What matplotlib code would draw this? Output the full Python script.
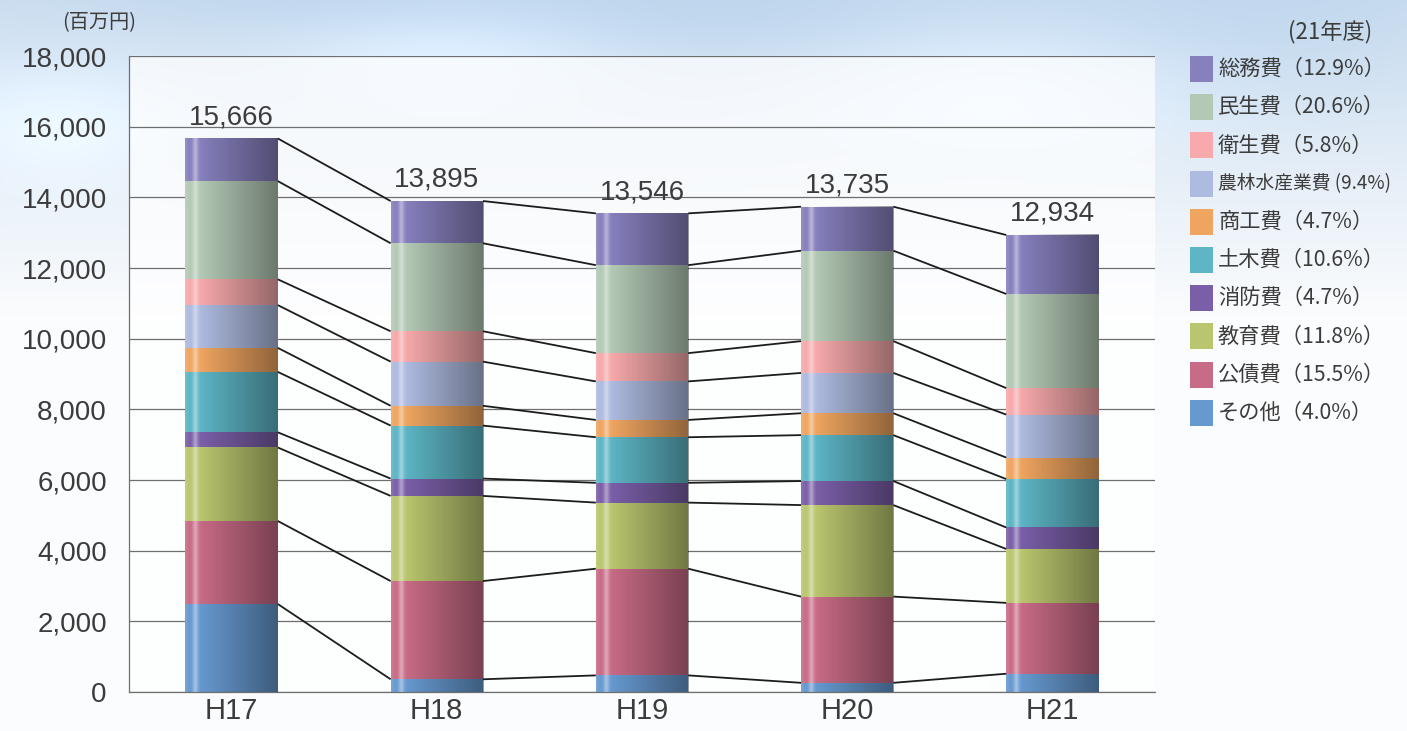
import numpy as np
import matplotlib.pyplot as plt
from matplotlib.patches import Rectangle

# データ（百万円）
years = ['H17', 'H18', 'H19', 'H20', 'H21']
totals = [15666, 13895, 13546, 13735, 12934]

# 下から積み上げる順
cat_names = ['その他', '公債費', '教育費', '消防費', '土木費',
             '商工費', '農林水産業費', '衛生費', '民生費', '総務費']
sonota = [2490, 360, 470, 260, 517]
kousai = [2350, 2780, 3020, 2440, 2005]
kyouiku = [2080, 2410, 1870, 2590, 1526]
shoubou = [430, 490, 560, 680, 608]
doboku = [1710, 1500, 1290, 1300, 1371]
shoukou = [680, 560, 490, 620, 608]
nourin = [1210, 1250, 1090, 1140, 1216]
eisei = [730, 860, 800, 900, 750]
minsei = [2780, 2490, 2490, 2560, 2664]
soumu = [1206, 1195, 1466, 1245, 1669]
series = [sonota, kousai, kyouiku, shoubou, doboku,
          shoukou, nourin, eisei, minsei, soumu]
shares_21 = ['4.0%', '15.5%', '11.8%', '4.7%', '10.6%',
             '4.7%', '9.4%', '5.8%', '20.6%', '12.9%']

colors = ['#6699d0', '#c86b86', '#bac66f', '#7a5fa8', '#5db5c5',
          '#efa560', '#aebbe0', '#f7a9ab', '#b3c9b5', '#8680bd']

plt.rcParams['font.family'] = ['Noto Sans CJK JP', 'DejaVu Sans']
num_font = ['Liberation Sans', 'DejaVu Sans']
txt_col = '#3c3c3c'

W, H = 1407, 731
fig = plt.figure(figsize=(W / 100, H / 100), dpi=100)

# 空っぽい背景
bg = fig.add_axes([0, 0, 1, 1], zorder=0)
bg.axis('off')
yy, xx = np.mgrid[0:H, 0:W]
t = np.clip(yy / 320.0, 0, 1)
top = np.array([0.80, 0.87, 0.94])
bot = np.array([0.985, 0.99, 0.995])
img = top[None, None, :] * (1 - t[..., None]) + bot[None, None, :] * t[..., None]
for cx, cy, rx, ry, k in [(700, 10, 260, 60, 0.9), (1250, 30, 200, 90, 0.7),
                          (300, 0, 200, 40, 0.6)]:
    g = np.exp(-(((xx - cx) / rx) ** 2 + ((yy - cy) / ry) ** 2))
    img = img - k * 0.06 * g[..., None] * np.array([1.0, 0.6, 0.2])
for cx, cy, rx, ry in [(450, 60, 160, 50), (1000, 90, 180, 60), (60, 120, 120, 60)]:
    g = np.exp(-(((xx - cx) / rx) ** 2 + ((yy - cy) / ry) ** 2))
    img = img + 0.06 * g[..., None]
bg.imshow(np.clip(img, 0, 1), aspect='auto', extent=[0, 1, 0, 1])
bg.set_xlim(0, 1)
bg.set_ylim(0, 1)

ax = fig.add_axes([129 / W, 1 - 692 / H, (1155 - 129) / W, (692 - 56) / H], zorder=1)
ax.patch.set_facecolor('white')
ax.patch.set_alpha(0.7)

x = np.arange(len(years))
bw = 0.45
bottom = np.zeros(len(years))
cums = []
for vals, c in zip(series, colors):
    ax.bar(x, vals, bw, bottom=bottom, color=c, linewidth=0, zorder=2)
    bottom = bottom + np.array(vals)
    cums.append(bottom.copy())

# 棒の陰影（左明るく右暗く）
n = 200
u = np.linspace(0, 1, n)
shade = np.zeros((1, n, 4))
dark = np.clip((u - 0.15) / 0.85, 0, 1) * 0.40
hl = 0.40 * np.exp(-((u - 0.11) / 0.03) ** 2) + 0.12 * np.exp(-((u - 0.0) / 0.03) ** 2)
alpha = np.maximum(dark, hl)
rgb = np.where(hl[:, None] > dark[:, None], 1.0, 0.0) * np.ones((n, 3))
shade[0, :, :3] = rgb
shade[0, :, 3] = alpha
for i in range(len(years)):
    ax.imshow(shade, aspect='auto', interpolation='bilinear',
              extent=[x[i] - bw / 2, x[i] + bw / 2, 0, totals[i]], zorder=3)

# 区切り線
for cum in cums:
    for i in range(len(years) - 1):
        ax.plot([x[i] + bw / 2, x[i + 1] - bw / 2], [cum[i], cum[i + 1]],
                color='#1c1c1c', lw=1.3, zorder=4, solid_capstyle='butt')

for i, tv in enumerate(totals):
    ax.annotate(f'{tv:,}', (x[i], tv), xytext=(0, 6), textcoords='offset points',
                ha='center', va='bottom', fontsize=20, color=txt_col, family=num_font)

ax.set_xlim(-0.5, 4.5)
ax.set_ylim(0, 18000)
ax.set_yticks(np.arange(0, 18001, 2000))
ax.set_yticklabels([f'{v:,}' for v in range(0, 18001, 2000)], family=num_font,
                   fontsize=20, color=txt_col)
ax.set_xticks(x)
ax.set_xticklabels(years, family=num_font, fontsize=21, color=txt_col)
ax.tick_params(axis='both', length=0)
ax.tick_params(axis='y', pad=16)
ax.tick_params(axis='x', pad=3.5)
ax.yaxis.grid(True, color='#6e6e6e', lw=0.9)
ax.set_axisbelow(True)
for s in ['top', 'right']:
    ax.spines[s].set_visible(False)
for s in ['left', 'bottom']:
    ax.spines[s].set_color('#6e6e6e')
    ax.spines[s].set_linewidth(0.9)

fig.text(62 / W, 1 - 23 / H, '(百万円)', fontsize=14.5, color=txt_col, va='center', ha='left')

# 凡例（上から総務費）
fig.text(1372 / W, 1 - 32 / H, '(21年度)', fontsize=16, color=txt_col, va='center', ha='right')
row0 = 69
step = 38.2
for k, j in enumerate(range(len(cat_names) - 1, -1, -1)):
    yc = row0 + k * step
    fig.patches.append(Rectangle((1190 / W, 1 - (yc + 13) / H), 23 / W, 26 / H,
                                 transform=fig.transFigure, color=colors[j], lw=0))
    if cat_names[j] == '農林水産業費':
        label = f'{cat_names[j]} ({shares_21[j]})'
        fs = 13.5
    else:
        label = f'{cat_names[j]}（{shares_21[j]}）'
        fs = 15.3
    fig.text(1218 / W, 1 - yc / H, label, fontsize=fs, color=txt_col,
             va='center', ha='left')

fig.savefig('out.png', dpi=100)
